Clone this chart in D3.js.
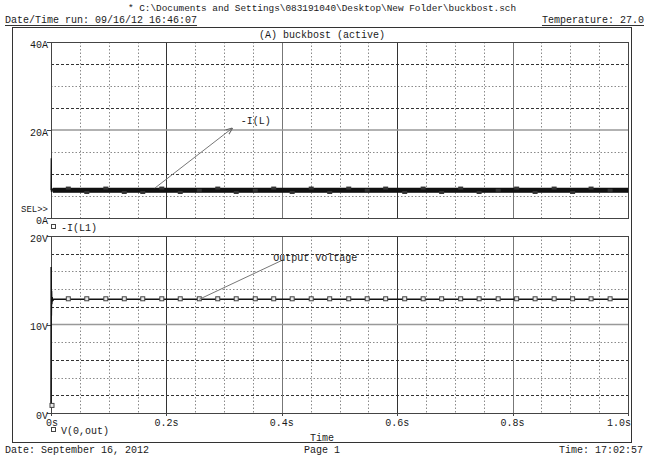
<!DOCTYPE html>
<html><head><meta charset="utf-8">
<script src="https://cdn.jsdelivr.net/npm/d3@7"></script>
<style>
body{margin:0;background:#fff}
svg text{font-family:"Liberation Mono","DejaVu Sans Mono",monospace;font-size:10px;fill:#1a1a1a}
</style>
</head><body>
<svg id="c" width="645" height="455"></svg>
<script>
// ---- data ----
const xTicks = [0, 0.2, 0.4, 0.6, 0.8, 1.0];
const xTickLabels = ["0s", "0.2s", "0.4s", "0.6s", "0.8s", "1.0s"];
const iTicks = [0, 20, 40];
const iTickLabels = ["0A", "20A", "40A"];
const vTicks = [0, 10, 20];
const vTickLabels = ["0V", "10V", "20V"];

// -I(L1): start-up transient and steady ripple band
const iStartT = [0, 0.0004, 0.0008, 0.0012, 0.0018, 0.0025, 0.0035];
const iStartVal = [6.3, 13.6, 5.9, 6.8, 6.0, 6.5, 6.3];
const iBandT = [0.0035, 1.0];
const iBandLow = [5.8, 5.8];
const iBandHigh = [6.8, 6.8];

// V(0,out)
const vT = [0, 0.0003, 0.0006, 0.001, 0.0015, 0.002, 0.003, 0.005, 1.0];
const vVal = [0.8, 16.5, 11.0, 13.8, 12.3, 13.1, 12.7, 12.85, 12.85];

// marker sample points
const markT = [0.030, 0.062, 0.095, 0.127, 0.159, 0.192, 0.224, 0.257, 0.289, 0.321,
               0.354, 0.386, 0.418, 0.451, 0.483, 0.516, 0.548, 0.580, 0.613, 0.645,
               0.677, 0.710, 0.742, 0.775, 0.807, 0.839, 0.872, 0.904, 0.936, 0.969];
const markI = [6.8, 5.8, 6.8, 5.8, 5.8, 6.8, 5.8, 6.3, 6.8, 5.8,
               6.3, 6.8, 5.8, 6.8, 5.8, 6.8, 6.3, 6.8, 5.8, 6.8,
               5.8, 6.8, 5.8, 6.3, 6.8, 5.8, 6.8, 5.8, 6.8, 6.3];
const markVT = [0].concat(markT);
const markV = [0.8, 12.85, 12.85, 12.85, 12.85, 12.85, 12.85, 12.85, 12.85, 12.85, 12.85,
               12.85, 12.85, 12.85, 12.85, 12.85, 12.85, 12.85, 12.85, 12.85, 12.85,
               12.85, 12.85, 12.85, 12.85, 12.85, 12.85, 12.85, 12.85, 12.85, 12.85];

// annotations  [t, value]
const annIFrom = [0.180, 6.8], annITo = [0.314, 20.4], annIText = [0.329, 21.4];
const annVFrom = [0.257, 12.85], annVTo = [0.402, 17.3], annVText = [0.385, 17.2];

// ---- drawing ----
const svg = d3.select("#c");
const L = 51, R = 628;
const x = d3.scaleLinear().domain([0, 1]).range([L, R]);
const yI = d3.scaleLinear().domain([0, 40]).range([218, 42]);
const yV = d3.scaleLinear().domain([0, 20]).range([413, 236]);

// header
svg.append("text").attr("x", 322).attr("y", 11).attr("text-anchor", "middle").style("font-size", "9.4px")
  .text("* C:\\Documents and Settings\\083191040\\Desktop\\New Folder\\buckbost.sch");
const dt = svg.append("text").attr("x", 5).attr("y", 23).text("Date/Time run: 09/16/12 16:46:07");
const tp = svg.append("text").attr("x", 644).attr("y", 23).attr("text-anchor", "end").text("Temperature: 27.0");
[dt, tp].forEach(t => {
  const b = t.node().getBBox();
  svg.append("line").attr("x1", b.x).attr("x2", b.x + b.width).attr("y1", 25.5).attr("y2", 25.5)
    .attr("stroke", "#333").attr("stroke-width", 1);
});

// outer frame
svg.append("rect").attr("x", 12.5).attr("y", 27.5).attr("width", 619).attr("height", 415)
  .attr("fill", "none").attr("stroke", "#333");
svg.append("text").attr("x", 322).attr("y", 38).attr("text-anchor", "middle").text("(A) buckbost (active)");

function grid(y, minorVals, styles, majorVal) {
  const g = svg.append("g");
  const y0 = y.range()[0], y1 = y.range()[1];
  x.ticks(20).filter(t => xTicks.indexOf(+t.toFixed(2)) < 0).forEach(t => {
    g.append("line").attr("x1", Math.round(x(t)) + 0.5).attr("x2", Math.round(x(t)) + 0.5)
      .attr("y1", y1).attr("y2", y0).attr("stroke", "#8a8a8a").attr("stroke-dasharray", "1.5,2");
  });
  minorVals.forEach((v, i) => {
    const dashed = styles[i];
    g.append("line").attr("x1", L).attr("x2", R)
      .attr("y1", Math.round(y(v)) + 0.5).attr("y2", Math.round(y(v)) + 0.5)
      .attr("stroke", dashed ? "#333" : "#8a8a8a")
      .attr("stroke-dasharray", dashed ? "3,2" : "1.5,2");
  });
  xTicks.slice(1, -1).forEach((t, i) => {
    g.append("line").attr("x1", Math.round(x(t)) + 0.5).attr("x2", Math.round(x(t)) + 0.5)
      .attr("y1", y1).attr("y2", y0).attr("stroke", i % 2 ? "#777" : "#333");
  });
  g.append("line").attr("x1", L).attr("x2", R).attr("y1", y(majorVal)).attr("y2", y(majorVal))
    .attr("stroke", "#999").attr("stroke-width", 1.6);
  g.append("rect").attr("x", L + 0.5).attr("y", y1 + 0.5).attr("width", R - L).attr("height", y0 - y1)
    .attr("fill", "none").attr("stroke", "#444");
}
grid(yI, [5, 10, 15, 25, 30, 35], [0, 1, 0, 1, 0, 1], 20);
grid(yV, [2, 4, 6, 8, 12, 14, 16, 18], [1, 0, 1, 0, 1, 0, 0, 1], 10);

function yAxis(y, ticks, labels) {
  ticks.forEach((v, i) => {
    svg.append("line").attr("x1", L - 4).attr("x2", L).attr("y1", Math.round(y(v)) + 0.5)
      .attr("y2", Math.round(y(v)) + 0.5).attr("stroke", "#444");
    svg.append("text").attr("x", L - 3).attr("y", y(v) + 5.5).attr("text-anchor", "end").text(labels[i]);
  });
}
yAxis(yI, iTicks, iTickLabels);
yAxis(yV, vTicks, vTickLabels);
svg.append("text").attr("x", L - 3).attr("y", 212).attr("text-anchor", "end").style("font-size", "9px").text("SEL>>");

xTicks.forEach((t, i) => {
  svg.append("line").attr("x1", Math.round(x(t)) + 0.5).attr("x2", Math.round(x(t)) + 0.5)
    .attr("y1", 413).attr("y2", 416).attr("stroke", "#444");
  const last = i === xTicks.length - 1;
  svg.append("text").attr("x", last ? 631 : x(t) + (i === 0 ? 1 : 0)).attr("y", 426)
    .attr("text-anchor", last ? "end" : "middle").text(xTickLabels[i]);
});
svg.append("text").attr("x", 322).attr("y", 441).attr("text-anchor", "middle").text("Time");

// current trace
const bandData = iBandT.map((t, i) => ({t, lo: iBandLow[i], hi: iBandHigh[i]}));
svg.append("path").datum(bandData)
  .attr("d", d3.area().x(d => x(d.t)).y0(d => yI(d.lo)).y1(d => yI(d.hi)))
  .attr("fill", "#111").attr("stroke", "#111").attr("stroke-width", 0.6);
svg.append("path").datum(iStartT.map((t, i) => [t, iStartVal[i]]))
  .attr("d", d3.line().x(d => x(d[0])).y(d => yI(d[1])))
  .attr("fill", "none").attr("stroke", "#111").attr("stroke-width", 1.2);
markT.forEach((t, i) => {
  svg.append("rect").attr("x", x(t) - 2.5).attr("y", yI(markI[i]) - 1.5).attr("width", 5).attr("height", 3)
    .attr("fill", "#333");
});

// voltage trace
svg.append("path").datum(vT.map((t, i) => [t, vVal[i]]))
  .attr("d", d3.line().x(d => x(d[0])).y(d => yV(d[1])))
  .attr("fill", "none").attr("stroke", "#111").attr("stroke-width", 1.5);
markVT.forEach((t, i) => {
  svg.append("rect").attr("x", x(t) - 2 + (i === 0 ? 1 : 0)).attr("y", yV(markV[i]) - 2.5).attr("width", 4).attr("height", 4)
    .attr("fill", "#e8e8e8").attr("stroke", "#444").attr("stroke-width", 1);
});

// annotations
const defs = svg.append("defs");
defs.append("marker").attr("id", "ah").attr("viewBox", "0 0 10 10").attr("refX", 9).attr("refY", 5)
  .attr("markerWidth", 7).attr("markerHeight", 7).attr("orient", "auto")
  .append("path").attr("d", "M0,1 L10,5 L0,9").attr("fill", "none").attr("stroke", "#666").attr("stroke-width", 1.5);
svg.append("line").attr("x1", x(annIFrom[0])).attr("y1", yI(annIFrom[1]))
  .attr("x2", x(annITo[0])).attr("y2", yI(annITo[1])).attr("stroke", "#777").attr("marker-end", "url(#ah)");
svg.append("text").attr("x", x(annIText[0])).attr("y", yI(annIText[1])).text("-I(L)");
svg.append("line").attr("x1", x(annVFrom[0])).attr("y1", yV(annVFrom[1]))
  .attr("x2", x(annVTo[0])).attr("y2", yV(annVTo[1])).attr("stroke", "#777");
svg.append("text").attr("x", x(annVText[0])).attr("y", yV(annVText[1])).text("Output Voltage");

function legend(yc, label) {
  svg.append("rect").attr("x", 51.5).attr("y", yc - 3.5).attr("width", 4).attr("height", 4)
    .attr("fill", "none").attr("stroke", "#444");
  svg.append("text").attr("x", 61).attr("y", yc + 3).text(label);
}
legend(228, "-I(L1)");
legend(431, "V(0,out)");

svg.append("text").attr("x", 5).attr("y", 453).text("Date: September 16, 2012");
svg.append("text").attr("x", 322).attr("y", 453).attr("text-anchor", "middle").text("Page 1");
svg.append("text").attr("x", 643).attr("y", 453).attr("text-anchor", "end").text("Time: 17:02:57");
</script>
</body></html>
